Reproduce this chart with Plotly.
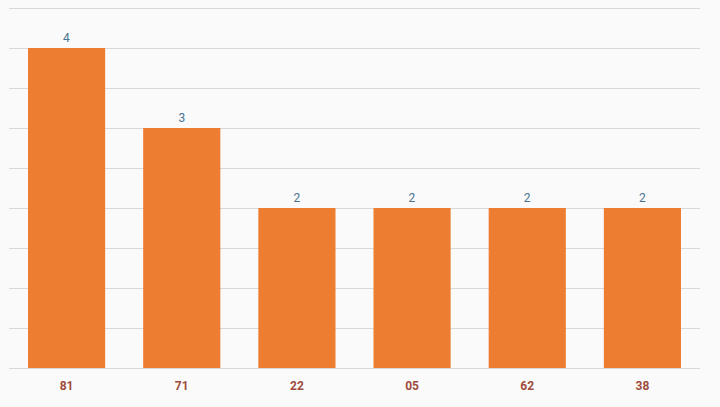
import plotly.graph_objects as go

categories = ["81", "71", "22", "05", "62", "38"]
values = [4, 3, 2, 2, 2, 2]

fig = go.Figure(go.Bar(
    x=categories, y=values,
    marker=dict(color="#ED7D31", line=dict(width=0)),
    text=[str(v) for v in values], textposition="outside",
    textfont=dict(family="Roboto", size=12, color="#4A7290"),
    cliponaxis=False,
))
fig.update_layout(
    width=720, height=407,
    margin=dict(l=9, r=20, t=6, b=39),
    paper_bgcolor="#FAFAFA", plot_bgcolor="#FAFAFA",
    bargap=0.33, showlegend=False,
    xaxis=dict(type="category", showgrid=False, ticks="",
               tickfont=dict(family="Roboto", size=12, color="#9E4B3B", weight="bold"),
               ticklabelstandoff=7,
               showline=True, linecolor="#D9D9D9", linewidth=1),
    yaxis=dict(range=[0, 4.525], dtick=0.5, showticklabels=False,
               gridcolor="#D9D9D9", gridwidth=1, zeroline=False, ticks=""),
)
fig.write_html("out.html", config={"displayModeBar": False},
               post_script="document.body.style.margin='0';document.body.style.background='#FAFAFA';")
